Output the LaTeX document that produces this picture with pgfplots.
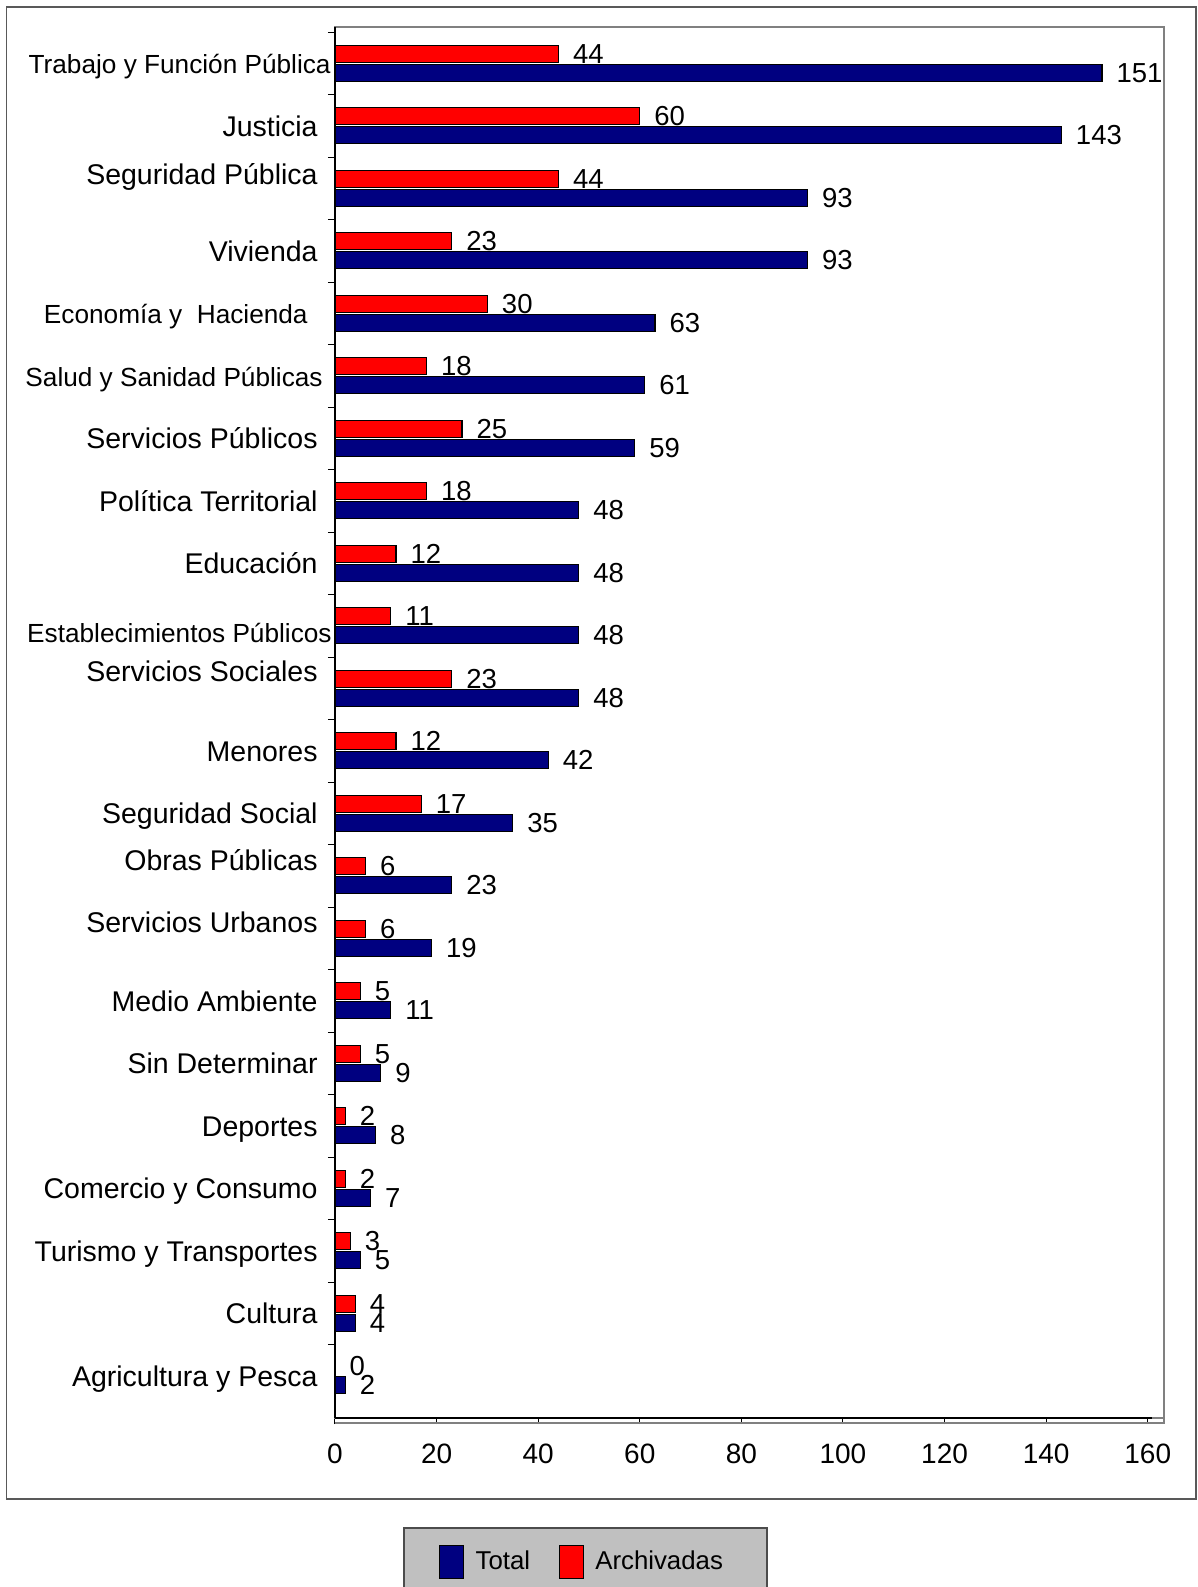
\documentclass[border=0pt]{standalone}
\usepackage{pgfplots}
\usepackage{pgfplotstable}
\pgfplotsset{compat=1.18}
\usepackage{fontspec}
\setmainfont{Liberation Sans}
\definecolor{navybar}{RGB}{0,0,128}
\definecolor{redbar}{RGB}{255,0,0}
\definecolor{leggray}{RGB}{192,192,192}
\definecolor{framegray}{RGB}{128,128,128}
\newcommand{\sm}{\fontsize{13.1}{15}\selectfont}

\pgfplotstableread{
pos total arch
21 151 44
20 143 60
19 93 44
18 93 23
17 63 30
16 61 18
15 59 25
14 48 18
13 48 12
12 48 11
11 48 23
10 42 12
9 35 17
8 23 6
7 19 6
6 11 5
5 9 5
4 8 2
3 7 2
2 5 3
1 4 4
0 2 0
}\datatable

\begin{document}
\begin{tikzpicture}
\path[use as bounding box] (0pt,0pt) rectangle (599pt,793.5pt);
\begin{axis}[
  at={(167.5pt,84.5pt)}, anchor=south west,
  scale only axis, width=414.5pt, height=695.5pt,
  xbar, clip=false,
  xmin=0, xmax=163.2,
  ymin=-0.675, ymax=21.581,
  xtick={0,20,...,160},
  ytick={0,1,...,21},
  minor ytick={0.5,1.5,...,21.5},
  tick pos=left,
  /pgf/number format/assume math mode=true,
  axis line style={framegray, line width=0.6pt},
  major tick length=3pt,
  minor tick length=3.5pt,
  major x tick style={black, line width=0.5pt, yshift=-3pt},
  major y tick style={draw=none},
  minor y tick style={black, line width=0.5pt},
  xticklabel style={font=\fontsize{14}{17}\selectfont, inner sep=0pt, anchor=north, yshift=-12.6pt},
  yticklabel style={font=\fontsize{14.25}{17}\selectfont, anchor=base east, inner sep=0pt, xshift=-5.5pt, yshift=-5.1pt},
  yticklabels={
    Agricultura y Pesca,
    Cultura,
    Turismo y Transportes,
    Comercio y Consumo,
    Deportes,
    Sin Determinar,
    Medio Ambiente,
    {\raisebox{8pt}{Servicios Urbanos}},
    {\raisebox{8pt}{Obras Públicas}},
    Seguridad Social,
    Menores,
    {\raisebox{8.5pt}{Servicios Sociales}},
    {\sm\raisebox{-3pt}{Establecimientos Públicos}\kern-7pt},
    Educación,
    Política Territorial,
    Servicios Públicos,
    {\sm Salud y Sanidad Públicas\kern-2.5pt},
    {\sm Economía y\ \ Hacienda\kern5pt},
    Vivienda,
    {\raisebox{7pt}{Seguridad Pública}},
    Justicia,
    {\sm Trabajo y Función Pública\kern-6.5pt}
  },
  nodes near coords,
  every node near coord/.append style={font=\fontsize{13.75}{16}\selectfont, inner sep=0pt, xshift=7pt, black},
  legend style={
    at={(0.0824,-0.0786)}, anchor=north west,
    fill=leggray, draw=black!70, line width=0.6pt,
    font=\fontsize{12.9}{15}\selectfont,
    inner xsep=17.5pt, inner ysep=8.5pt,
    nodes={inner sep=0pt},
    /tikz/every odd column/.append style={column sep=5.8pt},
    /tikz/every even column/.append style={column sep=14.15pt},
  },
  legend columns=2,
  legend cell align=left,
  legend image code/.code={\draw[#1, line width=0.6pt] (0pt,-8.25pt) rectangle (12pt,8.25pt);},
]
\addplot[xbar, bar width=8.5pt, bar shift=-4.75pt, fill=navybar, draw=black, line width=0.6pt]
  table[x=total, y=pos] {\datatable};
\addplot[xbar, bar width=8.5pt, bar shift=4.75pt, fill=redbar, draw=black, line width=0.6pt]
  table[x=arch, y=pos] {\datatable};
\legend{Total, Archivadas\rule{4.5pt}{0pt}}
\draw[black, line width=0.6pt] (rel axis cs:0,0) -- (rel axis cs:0,1);
\draw[black, line width=0.6pt] (rel axis cs:0,0) -- (rel axis cs:0.985,0);
\draw[framegray, line width=0.6pt] ([yshift=-2.5pt]rel axis cs:0,0) -- ([yshift=-2.5pt]rel axis cs:1,0) -- (rel axis cs:1,0);
\end{axis}
\draw[black!65, line width=0.6pt] (3.25pt,44pt) rectangle (598pt,790pt);
\end{tikzpicture}
\end{document}
